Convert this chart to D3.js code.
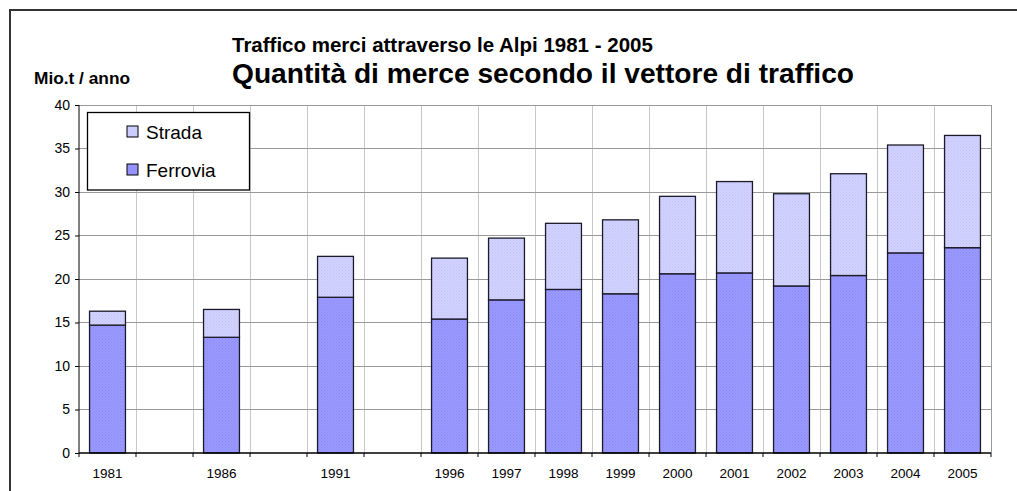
<!DOCTYPE html>
<html>
<head>
<meta charset="utf-8">
<script src="https://cdn.jsdelivr.net/npm/d3@7"></script>
<style>
  html, body { margin: 0; padding: 0; background: #fff; }
  svg { display: block; font-family: "Liberation Sans", Arial, sans-serif; }
</style>
</head>
<body>
<svg id="chart" width="1017" height="491"></svg>
<script>
// ---- data ----
const years    = ["1981", "", "1986", "", "1991", "", "1996", "1997", "1998", "1999", "2000", "2001", "2002", "2003", "2004", "2005"];
const ferrovia = [14.7, null, 13.3, null, 17.9, null, 15.4, 17.6, 18.8, 18.3, 20.6, 20.7, 19.2, 20.4, 23.0, 23.6];
const strada   = [1.6, null, 3.2, null, 4.7, null, 7.0, 7.1, 7.6, 8.5, 8.9, 10.5, 10.6, 11.7, 12.4, 12.9];
const yTicks   = [0, 5, 10, 15, 20, 25, 30, 35, 40];
const seriesNames = ["Strada", "Ferrovia"];
const title1 = "Traffico merci attraverso le Alpi 1981 - 2005";
const title2 = "Quantità di merce secondo il vettore di traffico";
const yLabel = "Mio.t / anno";

// ---- layout ----
const svg = d3.select("#chart");
const plot = { left: 79, right: 991, top: 105, bottom: 453 };

const defs = svg.append("defs");
function dotPattern(id, base, dot) {
  const p = defs.append("pattern").attr("id", id).attr("patternUnits", "userSpaceOnUse")
    .attr("width", 3).attr("height", 3);
  p.append("rect").attr("width", 3).attr("height", 3).attr("fill", base);
  p.append("rect").attr("x", 0).attr("y", 0).attr("width", 1).attr("height", 1).attr("fill", dot);
  p.append("rect").attr("x", 1.5).attr("y", 1.5).attr("width", 1).attr("height", 1).attr("fill", dot);
}
dotPattern("patF", "#9999ff", "#8a8af2");
dotPattern("patS", "#d2d2ff", "#c2c2f8");
const colors = { Ferrovia: "url(#patF)", Strada: "url(#patS)" };
const legendColors = { Ferrovia: "#9393fb", Strada: "#ccccfd" };

// outer frame
svg.append("path")
  .attr("d", "M10,500 L10,10 L1030,10")
  .attr("fill", "none").attr("stroke", "#333").attr("stroke-width", 2);

const idx = d3.range(years.length);
const x = d3.scaleBand().domain(idx).range([plot.left, plot.right]).paddingInner(0).paddingOuter(0);
const y = d3.scaleLinear().domain([0, 40]).range([plot.bottom, plot.top]);
const barW = x.bandwidth() * 0.63;

// vertical gridlines at slot boundaries
const bounds = idx.map(i => x(i)).concat([plot.right]);
svg.append("g").selectAll("line").data(bounds.slice(1, -1)).join("line")
  .attr("x1", d => d).attr("x2", d => d)
  .attr("y1", plot.top).attr("y2", plot.bottom)
  .attr("stroke", "#c8c8c8").attr("stroke-width", 1).attr("shape-rendering", "crispEdges");

// horizontal gridlines
svg.append("g").selectAll("line").data(yTicks.slice(1)).join("line")
  .attr("x1", plot.left).attr("x2", plot.right)
  .attr("y1", d => y(d)).attr("y2", d => y(d))
  .attr("stroke", "#999").attr("stroke-width", 1).attr("shape-rendering", "crispEdges");

// right border
svg.append("line").attr("x1", plot.right).attr("x2", plot.right)
  .attr("y1", plot.top).attr("y2", plot.bottom)
  .attr("stroke", "#999").attr("shape-rendering", "crispEdges");

// stacked bars
const rows = idx.filter(i => ferrovia[i] != null).map(i => ({ i, Ferrovia: ferrovia[i], Strada: strada[i] }));
const stack = d3.stack().keys(["Ferrovia", "Strada"])(rows);
const gBars = svg.append("g");
stack.forEach(layer => {
  gBars.append("g").selectAll("rect").data(layer).join("rect")
    .attr("x", d => x(d.data.i) + (x.bandwidth() - barW) / 2)
    .attr("width", barW)
    .attr("y", d => y(d[1]))
    .attr("height", d => y(d[0]) - y(d[1]))
    .attr("fill", colors[layer.key])
    .attr("stroke", "#1a1a2a").attr("stroke-width", 1.3);
});

// axes
const yAxis = d3.axisLeft(y).tickValues(yTicks).tickSize(4).tickPadding(5);
const gy = svg.append("g").attr("transform", `translate(${plot.left},0)`).call(yAxis);
gy.select(".domain").attr("stroke", "#000").attr("d", `M0,${plot.top}V${plot.bottom}`);
gy.selectAll(".tick line").attr("stroke", "#000");
gy.selectAll(".tick text").attr("font-size", 14).attr("fill", "#000")
  .attr("font-family", "Liberation Sans, Arial, sans-serif");

const gx = svg.append("g").attr("transform", `translate(0,${plot.bottom})`);
gx.append("line").attr("x1", plot.left).attr("x2", plot.right).attr("y1", 0).attr("y2", 0)
  .attr("stroke", "#000").attr("stroke-width", 1.5);
gx.selectAll("line.tk").data(bounds).join("line").attr("class", "tk")
  .attr("x1", d => d).attr("x2", d => d).attr("y1", 0).attr("y2", 4)
  .attr("stroke", "#000");
gx.selectAll("text").data(idx.filter(i => years[i] !== "")).join("text")
  .attr("x", i => x(i) + x.bandwidth() / 2)
  .attr("y", 25)
  .attr("text-anchor", "middle")
  .attr("font-size", 13.5)
  .text(i => years[i]);

// titles
svg.append("text").attr("x", 232).attr("y", 52).attr("font-size", 20.5).attr("font-weight", "bold")
  .text(title1);
svg.append("text").attr("x", 232).attr("y", 83).attr("font-size", 27).attr("font-weight", "bold")
  .attr("textLength", 622).attr("lengthAdjust", "spacingAndGlyphs")
  .text(title2);
svg.append("text").attr("x", 34).attr("y", 84).attr("font-size", 16).attr("font-weight", "bold")
  .attr("textLength", 96).attr("lengthAdjust", "spacingAndGlyphs")
  .text(yLabel);

// legend
const lg = svg.append("g");
lg.append("rect").attr("x", 87.5).attr("y", 112.5).attr("width", 162).attr("height", 77.5)
  .attr("fill", "#fff").attr("stroke", "#000").attr("stroke-width", 1.3);
seriesNames.forEach((name, k) => {
  const cy = 132 + k * 38;
  lg.append("rect").attr("x", 127).attr("y", cy - 6).attr("width", 11).attr("height", 11)
    .attr("fill", legendColors[name]).attr("stroke", "#000").attr("stroke-width", 1);
  lg.append("text").attr("x", 146).attr("y", cy + 7).attr("font-size", 19).text(name);
});
</script>
</body>
</html>
